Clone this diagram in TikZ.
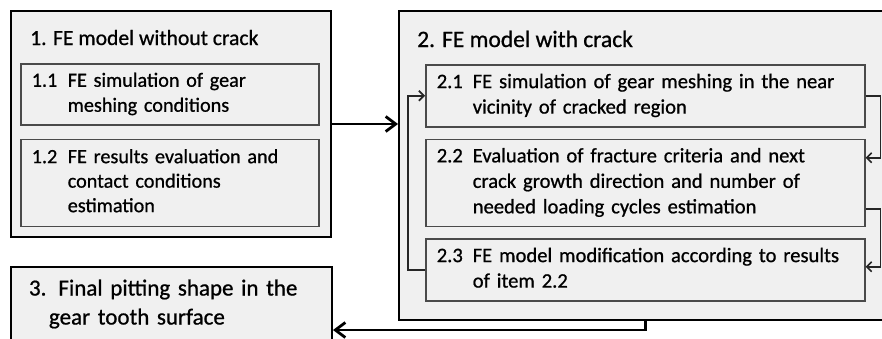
\documentclass[tikz,border=0pt]{standalone}
\usepackage{fontspec}
\setmainfont{Carlito}[FakeBold=0.8]
\usetikzlibrary{arrows.meta, positioning}

\definecolor{boxfill}{HTML}{F0F0F0}
\definecolor{innerline}{HTML}{4A4A4A}

% numbered item text with hanging second column
\newcommand{\numitem}[2]{\begin{tabular}{@{}p{36pt}@{}l@{}}#1 & #2\end{tabular}}

\begin{document}
\begin{tikzpicture}[
    x=1pt, y=-1pt,
    outerbox/.style={rectangle, draw=black, line width=2pt, fill=boxfill, anchor=north west, inner sep=0pt},
    innerbox/.style={rectangle, draw=innerline, line width=1.5pt, fill=boxfill, anchor=north west, inner xsep=11pt, inner ysep=0pt, align=left},
    title/.style={anchor=base west, inner sep=0pt},
    mainarrow/.style={line width=2.8pt, -{Straight Barb[length=10pt, width=15pt, line width=2.8pt]}},
    loopline/.style={line width=1.6pt, draw=black!85, -{Straight Barb[length=5pt, width=10pt, line width=1.6pt]}}
  ]
    \useasboundingbox (0,0) rectangle (882,338);

    % 1. model without crack
    \node[outerbox, minimum width=320pt, minimum height=226pt] (nocrack) at (10,10) {};
    \node[title, font=\fontsize{21.6}{25}\selectfont] (nocracktitle) at (30,45) {1. FE model without crack};
    \node[innerbox, minimum width=298pt, minimum height=61pt, text width=276pt, font=\fontsize{20.2}{25}\selectfont] (sim11) at (20,63)
      {\numitem{1.1}{FE simulation of gear\\ & meshing conditions}};
    \node[innerbox, minimum width=298pt, minimum height=87pt, text width=276pt, font=\fontsize{20.2}{24.5}\selectfont, below=13pt of sim11] (eval12)
      {\numitem{1.2}{FE results evaluation and\\ & contact conditions\\ & estimation}};

    % 2. model with crack
    \node[outerbox, minimum width=502pt, minimum height=309pt] (withcrack) at (398,10) {};
    \node[title, font=\fontsize{23.5}{28}\selectfont] (withcracktitle) at (417,47) {2. FE model with crack};
    \node[innerbox, minimum width=439pt, minimum height=62pt, text width=417pt, font=\fontsize{20.6}{25.5}\selectfont] (sim21) at (425,64)
      {\numitem{2.1}{FE simulation of gear meshing in the near\\ & vicinity of cracked region}};
    \node[innerbox, minimum width=439pt, minimum height=87pt, text width=417pt, font=\fontsize{20.6}{25.5}\selectfont, below=11pt of sim21] (eval22)
      {\numitem{2.2}{Evaluation of fracture criteria and next\\ & crack growth direction and number of\\ & needed loading cycles estimation}};
    \node[innerbox, minimum width=439pt, minimum height=62pt, text width=417pt, font=\fontsize{20.6}{25.5}\selectfont, below=11pt of eval22] (modif23)
      {\numitem{2.3}{FE model modification according to results\\ & of item 2.2}};

    % 3. final result
    \node[outerbox, minimum width=321pt, minimum height=74pt, inner xsep=18pt, text width=285pt, align=left, font=\fontsize{23}{29}\selectfont] (final) at (10,266)
      {3.\hspace{12pt}Final pitting shape in the\\\hspace{20pt}gear tooth surface};

    % iteration loop inside model 2
    \draw[loopline] (modif23.west) -- ++(-17,0) |- (sim21.west);
    \draw[loopline] (sim21.east) -- ++(15,0) |- ([yshift=25pt]eval22.east);
    \draw[loopline] ([yshift=-26pt]eval22.east) -- ++(15,0) |- ([yshift=3pt]modif23.east);

    % flow between the models
    \draw[mainarrow] (nocrack.east) -- (nocrack.east -| withcrack.west);
    \draw[mainarrow] (withcrack.south -| sim21.center) -- ++(0,9) coordinate (bend) -- (bend -| final.east);
  \end{tikzpicture}
\end{document}
